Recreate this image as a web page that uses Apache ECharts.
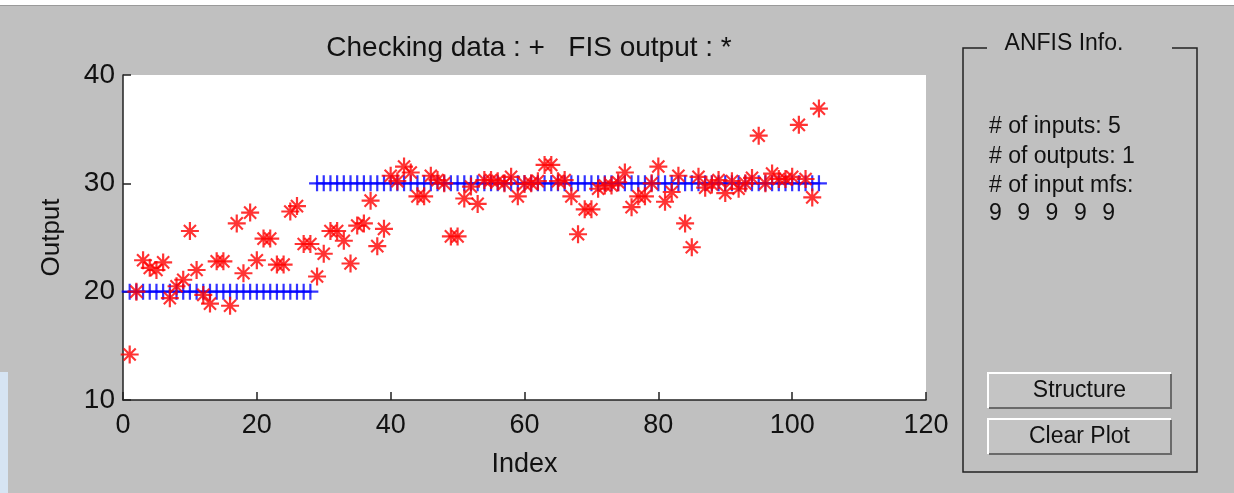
<!DOCTYPE html>
<html>
<head>
<meta charset="utf-8">
<title>ANFIS checking data</title>
<script src="https://cdn.jsdelivr.net/npm/echarts@6/dist/echarts.min.js"></script>
<style>
    html, body { margin: 0; padding: 0; background: #c0c0c0; }
    #chart { width: 1234px; height: 493px; }
</style>
</head>
<body>
<div id="chart"></div>
<script>
    // checking data (+), one value per index 1..104
    var checkingData = [
        20, 20, 20, 20, 20, 20, 20, 20, 20, 20, 20, 20, 20, 20,
        20, 20, 20, 20, 20, 20, 20, 20, 20, 20, 20, 20, 20, 20,
        30, 30, 30, 30, 30, 30, 30, 30, 30, 30, 30, 30, 30, 30, 30, 30, 30, 30, 30,
        30, 30, 30, 30, 30, 30, 30, 30, 30, 30, 30, 30, 30, 30, 30, 30, 30, 30, 30,
        30, 30, 30, 30, 30, 30, 30, 30, 30, 30, 30, 30, 30, 30, 30, 30, 30, 30, 30,
        30, 30, 30, 30, 30, 30, 30, 30, 30, 30, 30, 30, 30, 30, 30, 30, 30, 30, 30
    ];
    // FIS output (*)
    var fisOutput = [
        14.2, 20.0, 22.9, 22.2, 22.0, 22.7, 19.4, 20.5, 21.1, 25.6,
        22.0, 19.7, 18.9, 22.8, 22.8, 18.7, 26.3, 21.7, 27.3, 22.9,
        24.9, 24.9, 22.5, 22.5, 27.4, 27.9, 24.4, 24.4, 21.4, 23.5,
        25.6, 25.6, 24.7, 22.6, 26.1, 26.3, 28.4, 24.2, 25.8, 30.7,
        30.2, 31.55, 31.0, 28.8, 28.8, 30.7, 30.3, 30.0, 25.1, 25.1,
        28.6, 29.7, 28.1, 30.3, 30.3, 30.2, 30.0, 30.6, 28.8, 29.95,
        30.0, 30.2, 31.7, 31.7, 30.2, 30.3, 28.8, 25.3, 27.6, 27.6,
        29.5, 29.8, 29.8, 30.1, 31.0, 27.8, 28.8, 28.8, 30.0, 31.55,
        28.3, 29.2, 30.7, 26.3, 24.1, 30.6, 29.6, 29.9, 30.3, 29.1,
        30.2, 29.5, 30.0, 30.5, 34.4, 30.0, 30.9, 30.4, 30.4, 30.6,
        35.4, 30.4, 28.7, 36.9
    ];
    var xTicks = [0, 20, 40, 60, 80, 100, 120];
    var yTicks = [10, 20, 30, 40];
    var infoLines = ['# of inputs: 5', '# of outputs: 1', '# of input mfs:'];
    var inputMfs = [9, 9, 9, 9, 9];
    var buttons = ['Structure', 'Clear Plot'];

    var FONT = '"Liberation Sans", Arial, sans-serif';
    var plusPath = 'path://M0,6.9H16V9.1H0Z M6.9,0H9.1V16H6.9Z';
    var starPath = 'path://M0,7.9H18V10.1H0Z M7.9,0H10.1V18H7.9Z M2.2,3.7L3.7,2.2L15.8,14.3L14.3,15.8Z M14.3,2.2L15.8,3.7L3.7,15.8L2.2,14.3Z M6.6,6.6H11.4V11.4H6.6Z';

    function withIndex(arr) {
        return arr.map(function (v, i) { return [i + 1, v]; });
    }

    // right-hand "ANFIS Info." panel
    var graphic = [
        { type: 'rect', shape: { x: 0, y: 0, width: 1234, height: 5 }, style: { fill: '#ffffff' }, silent: true },
        { type: 'rect', shape: { x: 0, y: 5, width: 1234, height: 1 }, style: { fill: '#9a9a9a' }, silent: true },
        { type: 'rect', shape: { x: 0, y: 372, width: 8, height: 121 }, style: { fill: '#d6e4f3' }, silent: true },
        {
            type: 'polyline',
            shape: { points: [[987, 48], [963, 48], [963, 472], [1197, 472], [1197, 48], [1172, 48]] },
            style: { stroke: '#222', lineWidth: 1.5, fill: null }
        },
        {
            type: 'text', x: 1064, y: 44,
            style: { text: 'ANFIS Info.', font: '23px ' + FONT, fill: '#111', textAlign: 'center', textVerticalAlign: 'middle' }
        }
    ];
    infoLines.forEach(function (t, i) {
        graphic.push({
            type: 'text', x: 989, y: 127 + i * 29.5,
            style: { text: t, font: '23px ' + FONT, fill: '#111', textAlign: 'left', textVerticalAlign: 'middle' }
        });
    });
    inputMfs.forEach(function (m, i) {
        graphic.push({
            type: 'text', x: 989 + i * 28.3, y: 214,
            style: { text: String(m), font: '23px ' + FONT, fill: '#111', textAlign: 'left', textVerticalAlign: 'middle' }
        });
    });
    buttons.forEach(function (b, i) {
        var y0 = 373 + i * 46;
        graphic.push(
            { type: 'rect', shape: { x: 988, y: y0, width: 183, height: 35 }, style: { fill: '#c4c4c4' } },
            { type: 'polyline', shape: { points: [[988, y0 + 35], [988, y0], [1171, y0]] }, style: { stroke: '#ffffff', lineWidth: 2, fill: null } },
            { type: 'polyline', shape: { points: [[989, y0 + 35], [1171, y0 + 35], [1171, y0 + 1]] }, style: { stroke: '#6a6a6a', lineWidth: 2, fill: null } },
            {
                type: 'text', x: 1079.5, y: y0 + 18,
                style: { text: b, font: '23px ' + FONT, fill: '#111', textAlign: 'center', textVerticalAlign: 'middle' }
            }
        );
    });

    var chart = echarts.init(document.getElementById('chart'));
    var option = {
        animation: false,
        backgroundColor: '#c0c0c0',
        title: {
            text: 'Checking data : +   FIS output : *',
            left: 524,
            top: 29,
            textAlign: 'center',
            textStyle: { fontFamily: FONT, fontSize: 28, fontWeight: 'normal', color: '#111' }
        },
        grid: {
            left: 123, top: 75, width: 803, height: 325,
            show: true, backgroundColor: '#ffffff', borderWidth: 0
        },
        xAxis: {
            type: 'value',
            min: xTicks[0], max: xTicks[xTicks.length - 1], interval: 20,
            name: 'Index', nameLocation: 'middle', nameGap: 51,
            nameTextStyle: { fontFamily: FONT, fontSize: 27, color: '#111' },
            axisLine: { lineStyle: { color: '#222', width: 1.5 } },
            axisTick: { inside: true, length: 8, lineStyle: { color: '#222', width: 1.5 } },
            axisLabel: { margin: 12, fontFamily: FONT, fontSize: 27, color: '#111' },
            splitLine: { show: false }
        },
        yAxis: {
            type: 'value',
            min: yTicks[0], max: yTicks[yTicks.length - 1], interval: 10,
            name: 'Output', nameLocation: 'middle', nameGap: 58,
            nameTextStyle: { fontFamily: FONT, fontSize: 26, color: '#111' },
            axisLine: { lineStyle: { color: '#222', width: 1.5 } },
            axisTick: { inside: true, length: 8, lineStyle: { color: '#222', width: 1.5 } },
            axisLabel: { margin: 8, fontFamily: FONT, fontSize: 28, color: '#111' },
            splitLine: { show: false }
        },
        graphic: graphic,
        series: [
            {
                name: 'Checking data',
                type: 'scatter',
                symbol: plusPath,
                symbolSize: 16,
                itemStyle: { color: '#0000ff' },
                data: withIndex(checkingData)
            },
            {
                name: 'FIS output',
                type: 'scatter',
                symbol: starPath,
                symbolSize: 18,
                itemStyle: { color: '#ff0000' },
                data: withIndex(fisOutput)
            }
        ]
    };
    chart.setOption(option);
</script>
</body>
</html>
